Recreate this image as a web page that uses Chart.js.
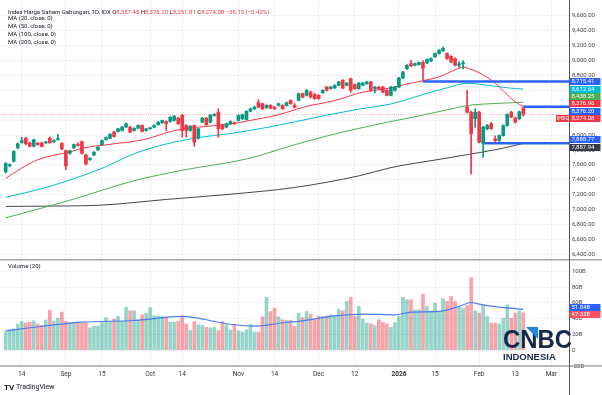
<!DOCTYPE html>
<html>
<head>
<meta charset="utf-8">
<script src="https://cdn.jsdelivr.net/npm/chart.js@4.4.1/dist/chart.umd.min.js"></script>
<style>
  html, body { margin: 0; padding: 0; background: #fff; }
  #wrap { position: relative; width: 602px; height: 395px; overflow: hidden; }
  #price { position: absolute; left: 0; top: 0; }
  #vol { position: absolute; left: 0; top: 259px; }
</style>
</head>
<body>
<div id="wrap">
  <canvas id="price" width="602" height="259"></canvas>
  <canvas id="vol" width="602" height="136"></canvas>
</div>
<script>
// x axis labels (bar index -> text)
const tickPos = [4, 15, 24, 36, 44, 58, 67, 78, 87, 98, 107, 118, 127, 136];
const tickText = ["14", "Sep", "15", "Oct", "14", "Nov", "14", "Dec", "12", "2026", "15", "Feb", "13", "Mar"];
const priceTicks = [6400, 6600, 6800, 7000, 7200, 7400, 7600, 7800, 8000, 8200, 8400, 8600, 8800, 9000, 9200, 9400, 9600];
const volTicks = [-20, 0, 20, 40, 60, 80, 100];

// daily candles, IHSG
const opens = [7511, 7590, 7650, 7829, 7900, 7957, 7895, 7850, 7890, 7895, 7895, 7957, 7908, 7940, 7890, 7792, 7756, 7829, 7870, 7913,
  7735, 7672, 7735, 7802, 7873, 7940, 7957, 8038, 8047, 8060, 8105, 8105, 8060, 8090, 8127, 8060, 8085, 8105, 8137, 8163,
  8180, 8180, 8194, 8225, 8261, 8127, 8060, 8127, 7957, 8172, 8225, 8172, 8260, 8305, 8137, 8105, 8150, 8163, 8194, 8217,
  8207, 8318, 8350, 8431, 8418, 8365, 8395, 8372, 8395, 8395, 8395, 8462, 8395, 8462, 8551, 8529, 8573, 8540, 8529, 8565,
  8640, 8618, 8627, 8663, 8730, 8663, 8752, 8672, 8618, 8663, 8685, 8707, 8618, 8640, 8640, 8596, 8529, 8596, 8640, 8761,
  8886, 8953, 8930, 8940, 8967, 8962, 8988, 9042, 9087, 9122, 9087, 9050, 9020, 8930, 8950, 8372, 8305, 8217, 8305, 7888.77,
  8083, 8150, 7949, 7926, 7993, 8127, 8305, 8230, 8217, 8357.45];
const highs = [7630, 7615, 7790, 7895, 7970, 7970, 7905, 7945, 7900, 7905, 7915, 7975, 7935, 8010, 7895, 7800, 7800, 7880, 7895, 7920,
  7745, 7700, 7780, 7845, 7935, 7975, 8020, 8050, 8090, 8115, 8160, 8115, 8100, 8135, 8135, 8090, 8100, 8135, 8180, 8200,
  8190, 8245, 8260, 8235, 8275, 8140, 8125, 8135, 8090, 8235, 8235, 8275, 8285, 8350, 8145, 8160, 8190, 8175, 8270, 8280,
  8325, 8360, 8385, 8471, 8425, 8405, 8405, 8380, 8425, 8405, 8440, 8470, 8420, 8560, 8560, 8605, 8585, 8555, 8540, 8605,
  8650, 8650, 8670, 8715, 8740, 8700, 8760, 8680, 8700, 8700, 8715, 8715, 8645, 8650, 8650, 8605, 8650, 8650, 8770, 8850,
  8940, 8997, 8960, 8975, 8990, 9015, 9030, 9095, 9140, 9175, 9095, 9060, 9030, 8975, 8990, 8596, 8320, 8350, 8315, 8115,
  8140, 8170, 7990, 8000, 8135, 8285, 8315, 8240, 8320, 8376.20];
const lows = [7490, 7575, 7640, 7815, 7890, 7870, 7840, 7840, 7865, 7840, 7885, 7890, 7900, 7930, 7805, 7538, 7745, 7820, 7850, 7745,
  7600, 7660, 7725, 7795, 7865, 7930, 7950, 7970, 8040, 8055, 8100, 8030, 8050, 8085, 8040, 8050, 8075, 8100, 8130, 8155,
  8060, 8170, 8185, 8140, 7970, 7970, 8050, 7850, 7945, 8165, 8130, 8160, 8250, 7970, 8070, 8095, 8140, 8140, 8185, 8205,
  8200, 8310, 8340, 8365, 8340, 8355, 8350, 8340, 8385, 8340, 8385, 8410, 8360, 8455, 8495, 8520, 8495, 8475, 8475, 8555,
  8585, 8610, 8620, 8655, 8615, 8655, 8570, 8610, 8610, 8655, 8675, 8585, 8560, 8610, 8565, 8520, 8520, 8585, 8630, 8750,
  8875, 8910, 8920, 8930, 8715.41, 8950, 8980, 9035, 9080, 9115, 9010, 8965, 8920, 8900, 8880, 8290, 7480, 8100, 7895, 7703,
  8070, 8075, 7905, 7915, 7985, 8115, 8230, 8160, 8205, 8251.81];
const closes = [7622, 7600, 7780, 7882, 7926, 7882, 7850, 7936, 7873, 7846, 7910, 7895, 7926, 7945, 7815, 7590, 7788, 7873, 7860, 7756,
  7614, 7690, 7770, 7837, 7926, 7966, 8010, 7980, 8083, 8105, 8150, 8038, 8090, 8127, 8047, 8083, 8095, 8127, 8172, 8194,
  8150, 8238, 8252, 8150, 8060, 8060, 8118, 7904, 8083, 8225, 8137, 8265, 8275, 8083, 8083, 8150, 8180, 8150, 8261, 8270,
  8315, 8350, 8372, 8372, 8350, 8395, 8358, 8350, 8418, 8350, 8431, 8418, 8372, 8551, 8506, 8596, 8506, 8485, 8485, 8596,
  8596, 8640, 8663, 8707, 8627, 8694, 8596, 8618, 8694, 8694, 8707, 8596, 8640, 8618, 8573, 8529, 8640, 8640, 8761, 8841,
  8930, 8921, 8953, 8967, 8890, 9007, 9020, 9087, 9131, 9154, 9020, 8975, 8930, 8950, 8960, 8305, 8016, 8305, 7904, 8105,
  8127, 8083, 7926, 7993, 8127, 8274, 8238, 8172, 8310.23, 8274.08];

// volume, billions
const volumes = [23.8, 25.9, 27.2, 33.1, 36.5, 34.4, 35.6, 37.3, 33.1, 31.4, 38.2, 50.9, 36.9, 40.7, 48.3, 36.5, 35.2, 35.2, 35.6, 34.4,
  34.4, 28.4, 30.5, 30.5, 35.2, 41.5, 36.5, 39.4, 42.8, 36.5, 54.6, 50.0, 50.0, 36.5, 44.9, 47.0, 54.2, 43.6, 42.8, 42.8,
  40.7, 35.6, 35.6, 36.9, 43.6, 33.1, 25.1, 36.5, 32.3, 31.4, 28.9, 28.4, 28.9, 24.7, 36.5, 32.3, 25.5, 33.1, 24.7, 23.0,
  25.9, 33.1, 23.0, 23.0, 42.4, 66.9, 49.2, 53.4, 42.4, 38.6, 37.7, 37.7, 30.5, 47.0, 41.5, 49.2, 45.8, 38.6, 42.8, 42.8,
  43.6, 44.9, 44.1, 52.1, 50.0, 61.8, 66.9, 42.8, 55.5, 39.4, 34.4, 33.5, 31.4, 38.6, 35.2, 33.5, 28.9, 35.2, 42.8, 66.9,
  63.9, 63.9, 51.2, 51.2, 71.1, 55.5, 50.0, 59.7, 49.2, 65.2, 61.8, 68.1, 61.8, 55.5, 53.4, 56.7, 92.2, 50.0, 47.0, 56.7,
  42.8, 34.4, 34.4, 33.5, 40.7, 57.6, 40.7, 47.0, 50.0, 47.33];

// moving averages: [bar index, value]
const ma20 = [[0, 7420], [4, 7560], [8, 7670], [12, 7730], [16, 7775], [20, 7835], [24, 7862], [28, 7890], [32, 7915], [36, 7960],
  [40, 8030], [44, 8080], [48, 8105], [52, 8125], [56, 8145], [60, 8185], [64, 8225], [68, 8270], [72, 8335], [76, 8395],
  [80, 8435], [84, 8490], [88, 8560], [92, 8596], [96, 8630], [100, 8680], [104, 8725], [108, 8775], [112, 8870], [114, 8905],
  [116, 8875], [118, 8830], [120, 8770], [122, 8690], [124, 8590], [126, 8485], [128, 8410], [129, 8376.96]];
const ma50 = [[0, 7170], [8, 7270], [16, 7400], [24, 7555], [32, 7750], [40, 7880], [48, 7965], [56, 8020], [64, 8090], [72, 8175],
  [80, 8265], [88, 8345], [96, 8415], [104, 8540], [110, 8630], [115, 8690], [120, 8665], [125, 8630], [129, 8612.64]];
const ma100 = [[0, 6895], [16, 7130], [32, 7390], [44, 7530], [60, 7680], [72, 7870], [84, 8040], [96, 8180], [104, 8265], [112, 8360],
  [116, 8400], [122, 8420], [129, 8438.25]];
const ma200 = [[0, 7047], [12, 7052], [24, 7065], [40, 7140], [56, 7210], [72, 7300], [88, 7455], [96, 7565], [108, 7675], [118, 7765],
  [124, 7825], [129, 7887.94]];
const volMa = [[0, 24.5], [6, 28.5], [11, 31.4], [19, 35.6], [32, 37.7], [44, 42.8], [48, 40.7], [52, 36.5], [57, 32.3], [62, 30.5],
  [66, 32.5], [70, 35.5], [73, 36.5], [82, 43.6], [90, 45.8], [97, 44.9], [101, 48.3], [108, 49.2], [113, 55.5], [116, 60.5],
  [118, 58.4], [123, 54.6], [129, 51.84]];

// horizontal rays drawn on the chart: [start bar, level]
const rays = [[104, 8715.41], [129, 8376.20], [119, 7888.77]];

const headerName = "Index Harga Saham Gabungan, 1D, IDX";
const headerChange = "\u221236.15 (\u22120.43%)";
const maNames = ["MA (20, close, 0)", "MA (50, close, 0)", "MA (100, close, 0)", "MA (200, close, 0)"];

const GREEN = "#089981", RED = "#f23645", BLUE = "#2962ff";
const C_MA20 = "#f23645", C_MA50 = "#00bcd4", C_MA100 = "#4caf50", C_MA200 = "#434651";
const FONT = "Roboto, 'Liberation Sans', sans-serif";
const X_MIN = -1.42, X_MAX = 140.39;
const AXIS_W = 33;

const idx = opens.map((_, i) => i);
const up = i => closes[i] >= opens[i];
const pts = arr => arr.map(([x, y]) => ({ x: x, y: y }));
const fmt = v => v.toLocaleString("en-US", { minimumFractionDigits: 2, maximumFractionDigits: 2 });
const last = arr => arr[arr.length - 1][1];

function xScale(showTicks) {
  return {
    type: "linear", min: X_MIN, max: X_MAX, offset: false, bounds: "data",
    grid: { color: "#f0f2f6", drawTicks: false, offset: false },
    border: { display: false },
    afterBuildTicks: s => { s.ticks = tickPos.map(v => ({ value: v })); },
    afterFit: s => { s.paddingLeft = 0; s.paddingRight = 0; if (showTicks) s.height = 29; },
    ticks: {
      display: showTicks, autoSkip: false, maxRotation: 0, padding: 4, color: "#333",
      font: c => ({ family: FONT, size: 6.5, weight: c.tick && c.tick.value === 98 ? "bold" : "normal" }),
      callback: (v, i) => tickText[i]
    }
  };
}

// spread overlapping axis tags apart
function spread(items, h) {
  items.sort((a, b) => a.y - b.y || b.v - a.v);
  for (let it = 0; it < 100; it++) {
    let moved = false;
    for (let k = 0; k < items.length - 1; k++) {
      const ov = items[k].y + h - items[k + 1].y;
      if (ov > 0.01) { items[k].y -= ov / 2; items[k + 1].y += ov / 2; moved = true; }
    }
    if (!moved) break;
  }
}

function drawTag(ctx, x, y, w, h, bg, text) {
  ctx.fillStyle = bg;
  ctx.fillRect(x, Math.round(y - h / 2), w, h);
  ctx.fillStyle = "#fff";
  ctx.font = "6px " + FONT;
  ctx.textAlign = "left";
  ctx.textBaseline = "middle";
  ctx.fillText(text, x + 2, Math.round(y - h / 2) + h / 2 + 0.3);
}

const priceDecor = {
  id: "priceDecor",
  afterDraw(chart) {
    const ctx = chart.ctx, y = chart.scales.y, area = chart.chartArea;
    ctx.save();
    // header legend
    ctx.textBaseline = "middle";
    ctx.textAlign = "left";
    ctx.font = "6px " + FONT;
    const n = opens.length - 1;
    const parts = [[headerName + " ", "#131722"], ["O", "#131722"], [fmt(opens[n]) + " ", RED], ["H", "#131722"], [fmt(highs[n]) + " ", RED],
      ["L", "#131722"], [fmt(lows[n]) + " ", RED], ["C", "#131722"], [fmt(closes[n]) + " ", RED], [headerChange, RED]];
    let px = 8;
    parts.forEach(([t, c]) => { ctx.fillStyle = c; ctx.fillText(t, px, 12); px += ctx.measureText(t).width; });
    ctx.fillStyle = "#131722";
    [18.5, 26.5, 34.5, 42.5].forEach((ly, k) => ctx.fillText(maNames[k], 8, ly));

    // tags on the price axis
    const tags = [
      { v: rays[0][1], c: BLUE }, { v: last(ma50), c: C_MA50 }, { v: last(ma100), c: C_MA100 },
      { v: last(ma20), c: C_MA20 }, { v: rays[1][1], c: BLUE }, { v: closes[n], c: RED, main: true },
      { v: rays[2][1], c: BLUE }, { v: last(ma200), c: "#363a45" }
    ];
    tags.forEach(t => { t.y = y.getPixelForValue(t.v); });
    spread(tags, 7.4);
    tags.forEach(t => {
      drawTag(ctx, area.right + 0.5, t.y, 31, 7, t.c, fmt(t.v));
      if (t.main) {
        ctx.fillStyle = RED;
        ctx.fillRect(area.right - 13, Math.round(t.y - 3.5), 12.5, 7);
        ctx.fillStyle = "#fff";
        ctx.font = "5.5px " + FONT;
        ctx.fillText("IHSG", area.right - 12.3, Math.round(t.y - 3.5) + 3.8);
      }
    });
    ctx.restore();
  }
};

new Chart(document.getElementById("price"), {
  type: "bar",
  data: {
    datasets: [
      { type: "bar", data: idx.map(i => ({ x: i, y: [opens[i], closes[i]] })), backgroundColor: idx.map(i => up(i) ? GREEN : RED),
        barThickness: 3, minBarLength: 1, grouped: false, order: 0 },
      { type: "bar", data: idx.map(i => ({ x: i, y: [lows[i], highs[i]] })), backgroundColor: idx.map(i => up(i) ? GREEN : RED),
        barThickness: 1, grouped: false, order: 1 },
      { type: "line", data: pts(ma20), borderColor: C_MA20, borderWidth: 1, pointRadius: 0, cubicInterpolationMode: "monotone", order: 3 },
      { type: "line", data: pts(ma50), borderColor: C_MA50, borderWidth: 1, pointRadius: 0, cubicInterpolationMode: "monotone", order: 4 },
      { type: "line", data: pts(ma100), borderColor: C_MA100, borderWidth: 1, pointRadius: 0, cubicInterpolationMode: "monotone", order: 5 },
      { type: "line", data: pts(ma200), borderColor: C_MA200, borderWidth: 1, pointRadius: 0, cubicInterpolationMode: "monotone", order: 6 },
      { type: "line", data: [{ x: X_MIN, y: closes[closes.length - 1] }, { x: X_MAX, y: closes[closes.length - 1] }],
        borderColor: "rgba(242,54,69,0.35)", borderWidth: 1, borderDash: [1, 1], pointRadius: 0, order: 7 },
      ...rays.map(([s, v]) => ({ type: "line", data: [{ x: s, y: v }, { x: X_MAX, y: v }], borderColor: BLUE, borderWidth: 2.5,
        pointRadius: 0, order: 2 }))
    ]
  },
  options: {
    responsive: false, animation: false, events: [],
    layout: { padding: 0 },
    plugins: { legend: { display: false }, tooltip: { enabled: false } },
    scales: {
      x: xScale(false),
      y: {
        position: "right", min: 6346, max: 9801, bounds: "data",
        grid: { color: "#f0f2f6", drawTicks: false },
        border: { display: true, color: "#555" },
        afterBuildTicks: s => { s.ticks = priceTicks.map(v => ({ value: v })); },
        afterFit: s => { s.width = AXIS_W; s.paddingTop = 0; s.paddingBottom = 0; },
        ticks: { padding: 3, color: "#444", font: { family: FONT, size: 6 }, callback: v => fmt(v) }
      }
    }
  },
  plugins: [priceDecor]
});

const volDecor = {
  id: "volDecor",
  afterDraw(chart) {
    const ctx = chart.ctx, y = chart.scales.y, area = chart.chartArea, W = chart.width, H = chart.height;
    ctx.save();
    // panel separators and axis line
    ctx.strokeStyle = "#a3a6af";
    ctx.lineWidth = 1.5;
    ctx.beginPath();
    ctx.moveTo(0, 0.75); ctx.lineTo(W, 0.75);
    ctx.moveTo(0, area.bottom); ctx.lineTo(W, area.bottom);
    ctx.stroke();
    ctx.strokeStyle = "#555";
    ctx.lineWidth = 1;
    ctx.beginPath();
    ctx.moveTo(area.right + 0.5, 0); ctx.lineTo(area.right + 0.5, H);
    ctx.stroke();

    ctx.fillStyle = "#131722";
    ctx.font = "6px " + FONT;
    ctx.textBaseline = "middle";
    ctx.textAlign = "left";
    ctx.fillText("Volume (20)", 8, 7);

    const tags = [{ v: last(volMa), c: BLUE }, { v: volumes[volumes.length - 1], c: "#f7525f" }];
    tags.forEach(t => { t.y = y.getPixelForValue(t.v); });
    spread(tags, 7.4);
    tags.forEach(t => drawTag(ctx, area.right + 0.5, t.y, 31, 7, t.c, t.v.toFixed(2) + "B"));

    // TradingView mark
    ctx.fillStyle = "#131722";
    ctx.font = "bold 8px " + FONT;
    ctx.fillText("TV", 4, 128.5);
    ctx.font = "7px " + FONT;
    ctx.fillText("TradingView", 16, 128.5);

    // CNBC Indonesia watermark
    ctx.fillStyle = "#17294b";
    ctx.textBaseline = "alphabetic";
    ctx.font = "bold 26px 'Liberation Sans', Arial, sans-serif";
    ctx.fillText("CNBC", 503, 89, 69);
    ctx.font = "bold 9.5px 'Liberation Sans', Arial, sans-serif";
    ctx.fillText("INDONESIA", 503, 100.5, 69);
    ctx.fillStyle = "#1e88e5";
    ctx.beginPath();
    ctx.moveTo(526, 68); ctx.lineTo(538, 68); ctx.lineTo(538, 80); ctx.closePath();
    ctx.fill();
    ctx.restore();
  }
};

new Chart(document.getElementById("vol"), {
  type: "bar",
  data: {
    datasets: [
      { type: "bar", data: idx.map(i => ({ x: i, y: volumes[i] })),
        backgroundColor: idx.map(i => up(i) ? "rgba(8,153,129,0.42)" : "rgba(242,54,69,0.45)"),
        barThickness: 3, grouped: false, order: 1 },
      { type: "line", data: pts(volMa), borderColor: "#4c7cf3", borderWidth: 1.2, pointRadius: 0, cubicInterpolationMode: "monotone", order: 0 }
    ]
  },
  options: {
    responsive: false, animation: false, events: [],
    layout: { padding: { top: 1 } },
    plugins: { legend: { display: false }, tooltip: { enabled: false } },
    scales: {
      x: xScale(true),
      y: {
        position: "right", min: -20, max: 114.4, bounds: "data",
        grid: { color: "#f0f2f6", drawTicks: false },
        border: { display: false },
        afterBuildTicks: s => { s.ticks = volTicks.map(v => ({ value: v })); },
        afterFit: s => { s.width = AXIS_W; s.paddingTop = 0; s.paddingBottom = 0; },
        ticks: { padding: 3, color: "#444", font: { family: FONT, size: 6 }, callback: v => v === 0 ? "0" : v + "B" }
      }
    }
  },
  plugins: [volDecor]
});
</script>
</body>
</html>
